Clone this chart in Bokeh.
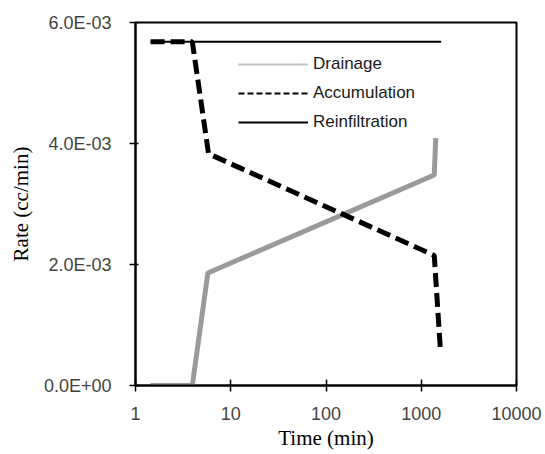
from bokeh.plotting import figure
from bokeh.models import Legend, LegendItem, FixedTicker, Range1d
from bokeh.embed import file_html
from bokeh.resources import INLINE

# values
drain_t = [1.44, 3.95, 5.75, 1370, 1420]
drain_rate = [0.0, 0.0, 1.86e-3, 3.48e-3, 4.09e-3]

accum_t = [1.44, 3.95, 5.85, 1370, 1590]
accum_rate = [5.68e-3, 5.68e-3, 3.83e-3, 2.15e-3, 0.58e-3]

reinf_t = [1.44, 1620]
reinf_rate = [5.68e-3, 5.68e-3]

x_ticks = [1, 10, 100, 1000, 10000]
x_labels = ["1", "10", "100", "1000", "10000"]
y_ticks = [0.0, 0.002, 0.004, 0.006]
y_labels = ["0.0E+00", "2.0E-03", "4.0E-03", "6.0E-03"]

p = figure(width=545, height=454, x_axis_type="log",
           output_backend="svg", toolbar_location=None,
           min_border_left=135, min_border_right=29,
           min_border_top=22, min_border_bottom=69)
p.x_range = Range1d(1, 10000)
p.y_range = Range1d(0, 0.006)

p.xgrid.visible = False
p.ygrid.visible = False
p.outline_line_color = "black"
p.outline_line_width = 2
p.outline_line_alpha = 1

# data lines
p.line(drain_t, drain_rate, line_color="#9a9a9a", line_width=5)
p.line(accum_t, accum_rate, line_color="black", line_width=5, line_dash="14 6")
p.line(reinf_t, reinf_rate, line_color="black", line_width=2)

# thinner single-point proxies for the legend (draw nothing in the plot)
d_leg = p.line(drain_t[:1], drain_rate[:1], line_color="#8a8a8a", line_width=2, line_dash="1 1")
a_leg = p.line(accum_t[:1], accum_rate[:1], line_color="black", line_width=2, line_dash="6 3")
r_leg = p.line(reinf_t[:1], reinf_rate[:1], line_color="black", line_width=2)

legend = Legend(items=[LegendItem(label="Drainage", renderers=[d_leg]),
                       LegendItem(label="Accumulation", renderers=[a_leg]),
                       LegendItem(label="Reinfiltration", renderers=[r_leg])],
                location=(103, 253))
legend.border_line_color = None
legend.background_fill_alpha = 0
legend.padding = 0
legend.margin = 0
legend.spacing = 9
legend.glyph_width = 70
legend.glyph_height = 20
legend.label_height = 20
legend.label_standoff = 5
legend.label_text_font = "Liberation Sans"
legend.label_text_font_size = "17px"
legend.label_text_color = "#1a1a1a"
p.add_layout(legend, "center")

# x axis
p.xaxis.ticker = FixedTicker(ticks=x_ticks)
p.xaxis.major_label_overrides = dict(zip(x_ticks, x_labels))
p.xaxis.axis_label = "Time (min)"
p.xaxis.major_tick_in = 6
p.xaxis.major_tick_out = 6
p.xaxis.major_label_standoff = 15
p.xaxis.axis_label_standoff = 3

# y axis
p.yaxis.ticker = FixedTicker(ticks=y_ticks)
p.yaxis.major_label_overrides = dict(zip(y_ticks, y_labels))
p.yaxis.axis_label = "Rate (cc/min)"
p.yaxis.major_tick_in = 3
p.yaxis.major_tick_out = 6
p.yaxis.major_label_standoff = 18
p.yaxis.axis_label_standoff = 8

for ax in (p.xaxis, p.yaxis):
    ax.axis_line_color = "black"
    ax.axis_line_width = 2
    ax.major_tick_line_color = "black"
    ax.major_tick_line_width = 1.5
    ax.minor_tick_line_color = None
    ax.major_label_text_font = "Liberation Sans"
    ax.major_label_text_font_size = "18px"
    ax.major_label_text_color = "#444444"
    ax.axis_label_text_font = "Liberation Serif"
    ax.axis_label_text_font_size = "21px"
    ax.axis_label_text_font_style = "normal"
    ax.axis_label_text_color = "black"

open("out.html", "w").write(file_html(p, INLINE))
